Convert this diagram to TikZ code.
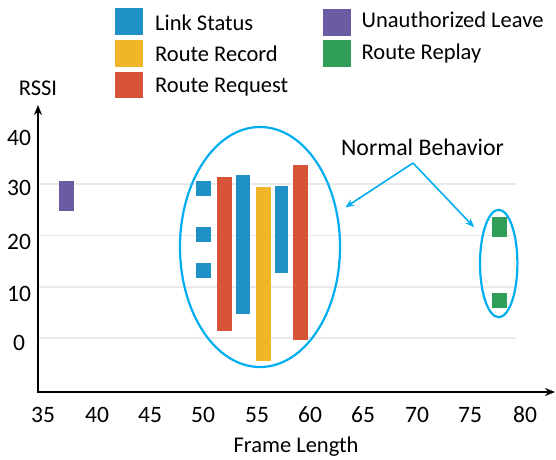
\documentclass[tikz,border=0pt]{standalone}
\usepackage{fontspec}
\setmainfont{Carlito}
\usetikzlibrary{shapes.geometric}
\usetikzlibrary{arrows.meta}

\definecolor{linkblue}{RGB}{31,145,199}
\definecolor{recordyellow}{RGB}{240,181,40}
\definecolor{requestred}{RGB}{216,84,57}
\definecolor{leavepurple}{RGB}{106,91,163}
\definecolor{replaygreen}{RGB}{46,158,89}
\definecolor{ringblue}{RGB}{0,174,239}
\definecolor{gridgray}{RGB}{234,234,234}

\begin{document}
\begin{tikzpicture}[x=1pt, y=-1pt, font=\fontsize{22.5}{27}\selectfont,
    txt/.style={inner sep=0pt},
    legendbox/.style={minimum width=27.7pt, minimum height=26.7pt, inner sep=0pt},
    ring/.style={draw=ringblue, line width=2.2pt, ellipse, inner sep=0pt},
    pointer/.style={draw=ringblue, line width=1.6pt, -{Stealth[length=9pt,width=7pt]}}]
\useasboundingbox (0,0) rectangle (556,459);
% grid lines
\foreach \Y in {184, 235.5, 287, 338}
    \draw[gridgray, line width=1.8pt] (38,\Y) -- (516,\Y);
% bars
\foreach \Xa/\Ya/\Xb/\Yb/\Colour in {59.3/181/74.3/210.7/leavepurple, 195.7/181/210.7/196/linkblue, 195.7/227/210.7/242/linkblue, 195.7/263/210.7/278/linkblue, 216.7/176.7/232/330.7/requestred, 235.7/175.3/250.3/314/linkblue, 255.7/187.3/270.7/360.7/recordyellow, 275.3/186/288.3/272.7/linkblue, 293.3/165/308.3/340/requestred, 491.7/216.7/506.7/236.7/replaygreen, 491.7/293.3/506.7/308.3/replaygreen}
    \fill[\Colour] (\Xa,\Ya) rectangle (\Xb,\Yb);
% rings and pointers
\node[ring, minimum width=160pt, minimum height=240pt] (bigring) at (260,247) {};
\node[ring, minimum width=37.4pt, minimum height=107.4pt] (smallring) at (498.7,263.5) {};
\node[txt, anchor=base, font=\fontsize{23.8}{28}\selectfont] (normal) at (422.5,155) {Normal Behavior};
\coordinate (fork) at (413,163);
\draw[pointer, shorten >=9pt] (fork) -- (bigring.24);
\draw[pointer, shorten >=11pt] (fork) -- (smallring.121);
% axes
\coordinate (origin) at (38,392);
\coordinate (ytip) at (38,105);
\coordinate (xtip) at (555,392);
\draw[line width=2.6pt, line join=miter, {Stealth[length=10pt,width=8pt]}-{Stealth[length=10pt,width=8pt]}] (ytip) -- (origin) -- (xtip);
\foreach \Y/\Label in {145/40, 195/30, 249/20, 301/10, 350/0}
    \node[txt, anchor=base, font=\fontsize{23.5}{28}\selectfont] (ytick\Label) at (19,\Y) {\Label};
\foreach \X/\Label in {43/35, 97/40, 150/45, 203/50, 257/55, 310/60, 363/65, 417/70, 470/75, 525/80}
    \node[txt, anchor=base, font=\fontsize{23.5}{28}\selectfont] (xtick\Label) at (\X,422) {\Label};
\node[txt, anchor=base] (rssi) at (38,95) {RSSI};
\node[txt, anchor=base] (framelen) at (296,452) {Frame Length};
% legend
\foreach \X/\Y/\Colour/\Name in {128.9/21.7/linkblue/link, 128.9/53.3/recordyellow/record, 128.9/85/requestred/request, 336.7/22.5/leavepurple/leave, 336.7/53.3/replaygreen/replay}
    \node[legendbox, fill=\Colour] (key\Name) at (\X,\Y) {};
\foreach \X/\Y/\Name/\Label in {155/30/link/Link Status, 155/61.7/record/Route Record, 155/92/request/Route Request, 361.5/27/leave/Unauthorized Leave, 361.5/59.3/replay/Route Replay}
    \node[txt, anchor=base west] (lab\Name) at (\X,\Y) {\Label};
\end{tikzpicture}
\end{document}
